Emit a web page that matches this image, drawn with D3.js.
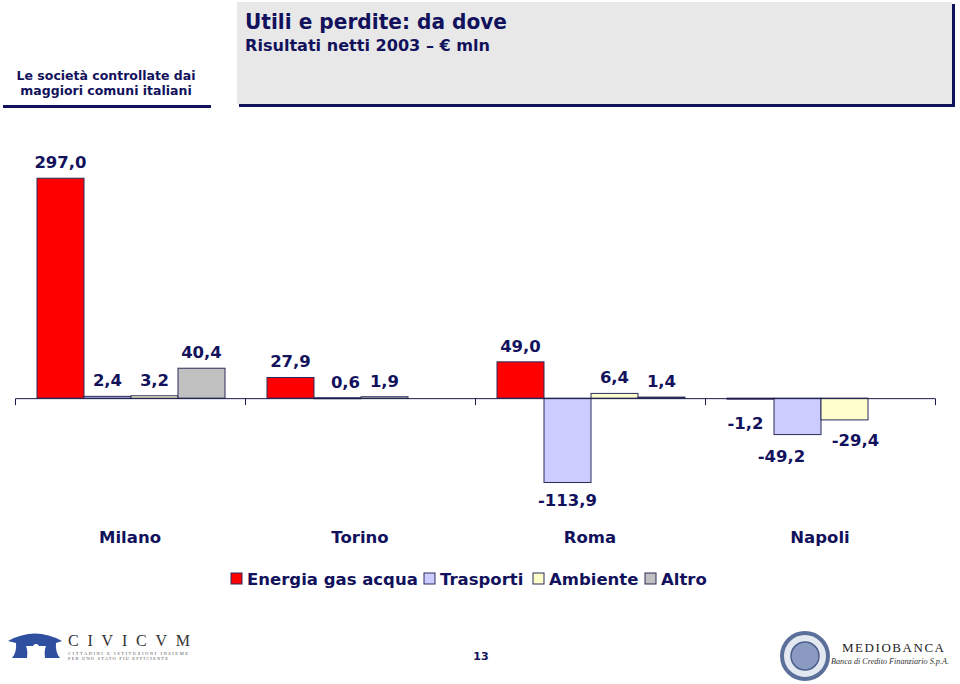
<!DOCTYPE html>
<html><head><meta charset="utf-8">
<script src="https://cdn.jsdelivr.net/npm/d3@7"></script>
<style>html,body{margin:0;padding:0;background:#fff;}svg{display:block;}</style>
</head><body>
<script>
const cities = ["Milano", "Torino", "Roma", "Napoli"];
const seriesNames = ["Energia gas acqua", "Trasporti", "Ambiente", "Altro"];
const seriesColors = ["#ff0000", "#ccccff", "#ffffcc", "#c0c0c0"];
// values per city (null = no bar)
const energia = [297.0, 27.9, 49.0, -1.2];
const trasporti = [2.4, 0.6, -113.9, -49.2];
const ambiente = [3.2, 1.9, 6.4, -29.4];
const altro = [40.4, null, 1.4, null];

const W = 960, H = 684;
const navy = "#12125c";
const font = "'DejaVu Sans', Verdana, sans-serif";

// label nudges (as placed in the original to avoid collisions)
const nudge = {
  "Torino|Trasporti": [8, 0],
  "Napoli|Energia gas acqua": [-5, 6],
  "Napoli|Trasporti": [-16, 3],
  "Napoli|Ambiente": [11, 2]
};

const svg = d3.select("body").append("svg").attr("width", W).attr("height", H);

// Header
svg.append("rect").attr("x", 239).attr("y", 4).attr("width", 716).attr("height", 103).attr("fill", navy);
svg.append("rect").attr("x", 237).attr("y", 2).attr("width", 715).attr("height", 102).attr("fill", "#e8e8e8");
svg.append("text").attr("x", 245).attr("y", 29).attr("font-family", font).attr("font-weight", "bold")
  .attr("font-size", 22).attr("fill", navy).attr("textLength", 262).attr("lengthAdjust", "spacingAndGlyphs")
  .text("Utili e perdite: da dove");
svg.append("text").attr("x", 245).attr("y", 51).attr("font-family", font).attr("font-weight", "bold")
  .attr("font-size", 16).attr("fill", navy).attr("textLength", 245).attr("lengthAdjust", "spacingAndGlyphs")
  .text("Risultati netti 2003 – € mln");
svg.append("text").attr("x", 106).attr("y", 80).attr("text-anchor", "middle").attr("font-family", font)
  .attr("font-weight", "bold").attr("font-size", 12.5).attr("fill", navy).text("Le società controllate dai");
svg.append("text").attr("x", 106).attr("y", 95).attr("text-anchor", "middle").attr("font-family", font)
  .attr("font-weight", "bold").attr("font-size", 12.5).attr("fill", navy).text("maggiori comuni italiani");
svg.append("rect").attr("x", 3).attr("y", 105).attr("width", 208).attr("height", 3).attr("fill", navy);

// Scales
const x0 = d3.scaleBand().domain(cities).range([15, 935]).padding(0);
const x1 = d3.scaleBand().domain(seriesNames).range([22, 210]).padding(0);
const y = d3.scaleLinear().domain([-120, 300]).range([487, 176]);

const seriesVals = [energia, trasporti, ambiente, altro];
const data = [];
cities.forEach((c, ci) => {
  seriesNames.forEach((s, si) => {
    const v = seriesVals[si][ci];
    if (v !== null) data.push({city: c, series: s, color: seriesColors[si], value: v});
  });
});

const g = svg.append("g");
g.selectAll("rect.bar").data(data).join("rect").attr("class", "bar")
  .attr("x", d => x0(d.city) + x1(d.series))
  .attr("width", x1.bandwidth())
  .attr("y", d => Math.min(y(d.value), y(0)))
  .attr("height", d => Math.max(1, Math.abs(y(d.value) - y(0))))
  .attr("fill", d => d.color)
  .attr("stroke", "#2a2a5a").attr("stroke-width", 1);

// category axis
const ag = svg.append("g").attr("transform", `translate(0,${y(0)})`)
  .call(d3.axisBottom(x0).tickSize(0).tickFormat(""));
ag.selectAll(".tick").remove();
ag.select(".domain").attr("stroke", "#1a1a4a").attr("d", `M15.5,7V0.5H935.5V7`);
ag.selectAll("line.tk").data(x0.domain().map(c => x0(c)).slice(1)).join("line")
  .attr("class", "tk").attr("x1", d => d + 0.5).attr("x2", d => d + 0.5).attr("y1", 0).attr("y2", 7)
  .attr("stroke", "#1a1a4a");

// value labels
const fmt = v => v.toFixed(1).replace(".", ",");
const nd = d => nudge[d.city + "|" + d.series] || [0, 0];
g.selectAll("text.val").data(data).join("text").attr("class", "val")
  .attr("x", d => x0(d.city) + x1(d.series) + x1.bandwidth() / 2 + nd(d)[0])
  .attr("y", d => (d.value >= 0 ? y(d.value) - 10 : y(d.value) + 24) + nd(d)[1])
  .attr("text-anchor", "middle").attr("font-family", font).attr("font-weight", "bold")
  .attr("font-size", 16.5).attr("fill", navy).text(d => fmt(d.value));

// category labels
svg.selectAll("text.cat").data(cities).join("text").attr("class", "cat")
  .attr("x", d => x0(d) + x0.bandwidth() / 2).attr("y", 543)
  .attr("text-anchor", "middle").attr("font-family", font).attr("font-weight", "bold")
  .attr("font-size", 16.5).attr("fill", navy).text(d => d);

// legend
const legX = [231, 424, 533, 645];
const lg = svg.append("g");
seriesNames.forEach((s, i) => {
  lg.append("rect").attr("x", legX[i]).attr("y", 573).attr("width", 11).attr("height", 11)
    .attr("fill", seriesColors[i]).attr("stroke", "#2a2a5a").attr("stroke-width", 1);
  lg.append("text").attr("x", legX[i] + 16).attr("y", 585).attr("font-family", font).attr("font-weight", "bold")
    .attr("font-size", 16.5).attr("fill", navy).text(s);
});

// footer: CIVICVM logo (simplified)
const blue = "#2f4f9f";
svg.append("path").attr("d", "M8,641 Q35,626 62,641 L56,643 Q55,652 60,658 L45,658 Q44,650 46,646 L26,646 Q28,650 27,658 L12,658 Q17,652 16,643 Z")
  .attr("fill", blue);
svg.append("circle").attr("cx", 36).attr("cy", 647).attr("r", 3).attr("fill", "#fff");
svg.append("text").attr("x", 68).attr("y", 646).attr("font-family", "'Liberation Serif', serif")
  .attr("font-size", 16).attr("fill", "#333").attr("textLength", 122).attr("lengthAdjust", "spacing").text("CIVICVM");
svg.append("text").attr("x", 68).attr("y", 655).attr("font-family", "'Liberation Serif', serif")
  .attr("font-size", 4.5).attr("fill", "#555").attr("textLength", 120).text("CITTADINI E ISTITUZIONI INSIEME");
svg.append("text").attr("x", 68).attr("y", 660).attr("font-family", "'Liberation Serif', serif")
  .attr("font-size", 4.5).attr("fill", "#555").attr("textLength", 100).text("PER UNO STATO PIÙ EFFICIENTE");

// page number
svg.append("text").attr("x", 481).attr("y", 660).attr("text-anchor", "middle").attr("font-family", font)
  .attr("font-weight", "bold").attr("font-size", 11).attr("fill", navy).text("13");

// Mediobanca logo (simplified)
svg.append("circle").attr("cx", 805).attr("cy", 656).attr("r", 23).attr("fill", "#e4e8f0").attr("stroke", "#5a6f9a").attr("stroke-width", 4);
svg.append("circle").attr("cx", 805).attr("cy", 656).attr("r", 14).attr("fill", "#8a9ac0").attr("stroke", "#4a5f8a").attr("stroke-width", 1.5);
svg.append("text").attr("x", 842).attr("y", 652).attr("font-family", "'Liberation Serif', serif")
  .attr("font-size", 13).attr("fill", "#222").attr("textLength", 102).attr("lengthAdjust", "spacing").text("MEDIOBANCA");
svg.append("text").attr("x", 831).attr("y", 664).attr("font-family", "'Liberation Serif', serif")
  .attr("font-style", "italic").attr("font-size", 9).attr("fill", "#333").attr("textLength", 118)
  .attr("lengthAdjust", "spacingAndGlyphs").text("Banca di Credito Finanziario S.p.A.");
</script>
</body></html>
